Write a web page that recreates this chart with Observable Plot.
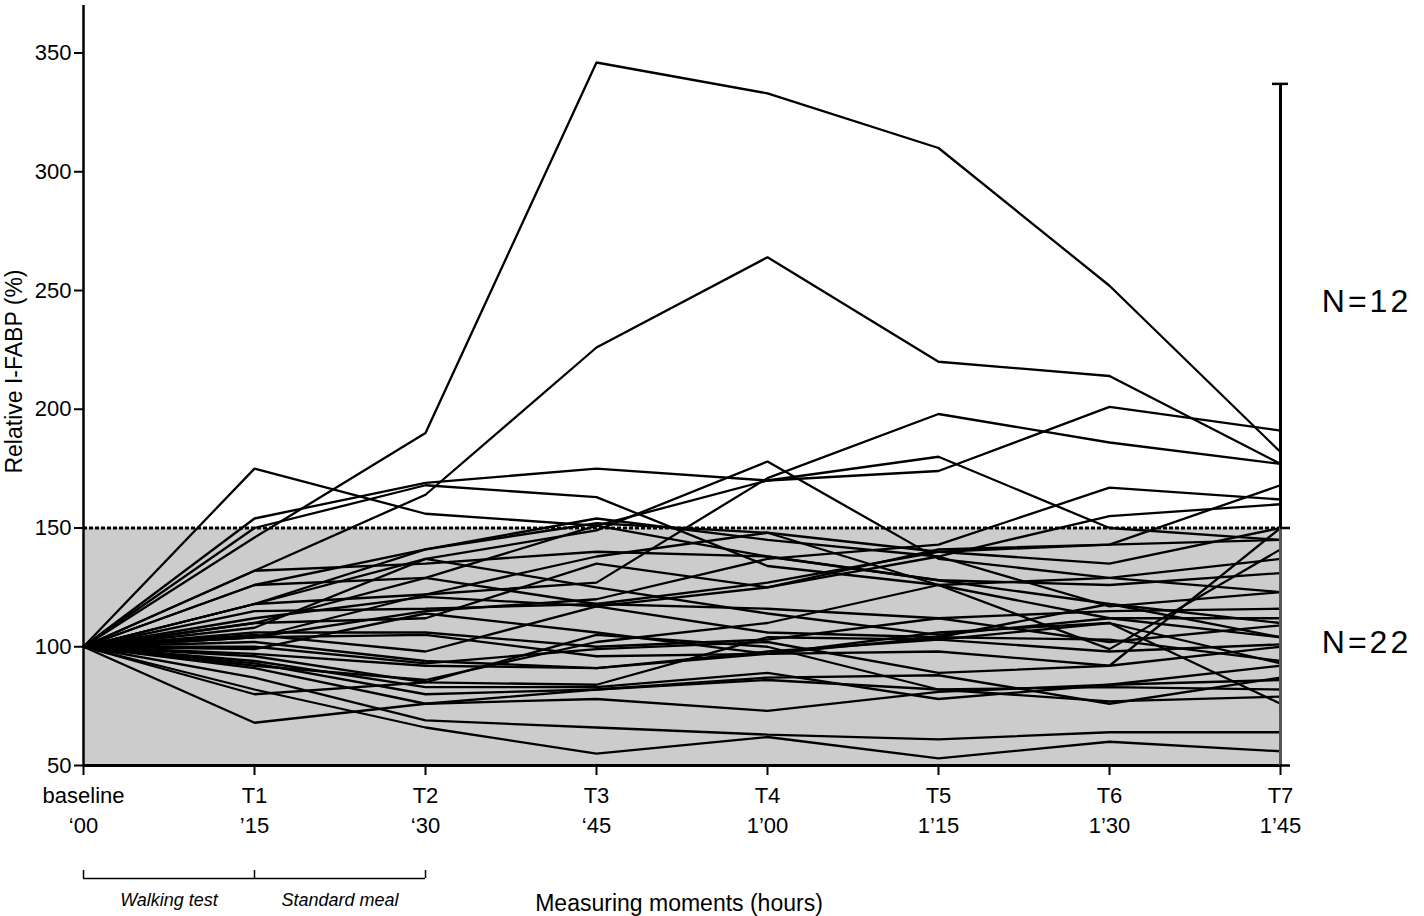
<!DOCTYPE html>
<html>
<head>
<meta charset="utf-8">
<script src="https://cdn.jsdelivr.net/npm/d3@7"></script>
<script src="https://cdn.jsdelivr.net/npm/@observablehq/plot@0.6"></script>
<style>
  html, body { margin: 0; padding: 0; background: #ffffff; }
  #chart svg { display: block; }
</style>
</head>
<body>
<div id="chart"></div>
<script>
// ---- Tick labels / categories ----
const moments = ["baseline", "T1", "T2", "T3", "T4", "T5", "T6", "T7"];
const clockTimes = ["\u201800", "\u201915", "\u201830", "\u201845", "1\u201900", "1\u201915", "1\u201930", "1\u201945"];
const yTicks = [50, 100, 150, 200, 250, 300, 350];

// ---- Reference lines / annotations ----
const threshold = 150;
const bracketTop = 337;
const phases = [
  { label: "Walking test", from: 0, to: 1 },
  { label: "Standard meal", from: 1, to: 2 }
];
const groupLabels = [
  { label: "N=12", y: 243.5 },
  { label: "N=22", y: 100 }
];

// ---- Subjects exceeding 150% (relative I-FABP, %, baseline..T7) ----
const upperGroup = [
  [100, 146, 190, 346, 333, 310, 252, 182],
  [100, 132, 164, 226, 264, 220, 214, 177],
  [100, 154, 169, 175, 170, 174, 201, 191],
  [100, 175, 156, 151, 138, 128, 118, 110],
  [100, 150, 168, 163, 134, 126, 112, 104],
  [100, 118, 137, 149, 178, 137, 129, 123],
  [100, 104, 122, 127, 171, 198, 186, 177],
  [100, 110, 129, 151, 170, 180, 150, 145],
  [100, 104, 115, 120, 137, 143, 167, 162],
  [100, 118, 141, 154, 145, 138, 155, 160],
  [100, 112, 121, 117, 125, 141, 143, 168],
  [100, 126, 141, 152, 148, 140, 135, 150]
];

// ---- Subjects staying below 150% ----
const lowerGroup = [
  [100, 132, 135, 140, 138, 128, 126, 131],
  [100, 126, 129, 118, 127, 140, 143, 145],
  [100, 118, 122, 138, 148, 126, 129, 137],
  [100, 115, 116, 118, 116, 112, 115, 116],
  [100, 110, 112, 135, 125, 138, 117, 123],
  [100, 108, 137, 125, 114, 105, 112, 112],
  [100, 106, 106, 100, 103, 112, 102, 109],
  [100, 105, 98, 117, 106, 104, 118, 104],
  [100, 102, 94, 91, 98, 103, 98, 101],
  [100, 100, 93, 99, 102, 89, 92, 100],
  [100, 99, 114, 106, 97, 104, 103, 94],
  [100, 96, 85, 84, 104, 103, 110, 93],
  [100, 94, 83, 83, 89, 78, 84, 92],
  [100, 93, 80, 82, 87, 88, 76, 87],
  [100, 91, 76, 78, 73, 81, 84, 86],
  [100, 87, 69, 66, 63, 61, 64, 64],
  [100, 82, 66, 55, 62, 53, 60, 56],
  [100, 80, 85, 105, 100, 82, 83, 82],
  [100, 68, 76, 82, 86, 82, 77, 79],
  [100, 104, 105, 96, 97, 106, 110, 76],
  [100, 97, 92, 91, 97, 98, 92, 150],
  [100, 92, 86, 102, 110, 126, 99, 141]
];

const yLabel = "Relative I-FABP (%)";
const xLabel = "Measuring moments (hours)";

// ---- Build long table for the library ----
const rows = [];
[...upperGroup, ...lowerGroup].forEach((vals, id) =>
  vals.forEach((v, t) => rows.push({ id, t, v }))
);
const lastT = moments.length - 1;
const yMin = yTicks[0];

const plot = Plot.plot({
  width: 1424,
  height: 916,
  marginLeft: 83,
  marginRight: 144,
  marginTop: 5,
  marginBottom: 151,
  style: { fontFamily: "'Liberation Sans', Arial, sans-serif", fontSize: "22px", background: "#ffffff", color: "#000" },
  x: { type: "linear", domain: [0, lastT] },
  y: { domain: [yMin, 370] },
  marks: [
    // grey band under the threshold
    Plot.rect([{ lo: yMin, hi: threshold }], { x1: 0, x2: lastT, y1: "lo", y2: "hi", fill: "#cccccc" }),
    // dotted threshold
    Plot.ruleY([threshold], { x1: 0, x2: lastT, stroke: "#000", strokeWidth: 3, strokeDasharray: "4,2" }),
    // subject lines
    Plot.line(rows, { x: "t", y: "v", z: "id", stroke: "#000", strokeWidth: 2.3, strokeLinejoin: "miter" }),
    // axes
    Plot.axisY(yTicks, { tickSize: 9, tickPadding: 3, strokeWidth: 2, label: null }),
    Plot.axisX(d3.range(moments.length), {
      tickSize: 10, tickPadding: 6, strokeWidth: 2, label: null, lineHeight: 1.36,
      tickFormat: (i) => moments[i] + "\n" + clockTimes[i]
    }),
    Plot.ruleX([0], { y1: yMin, y2: 370, stroke: "#000", strokeWidth: 2.5 }),
    Plot.ruleY([yMin], { x1: 0, x2: lastT, stroke: "#000", strokeWidth: 3 }),
    // right-hand group brackets
    Plot.ruleX([lastT], { y1: threshold, y2: bracketTop, stroke: "#000", strokeWidth: 3 }),
    Plot.ruleX([lastT], { y1: yMin, y2: threshold, stroke: "#555", strokeWidth: 3 }),
    Plot.ruleY([bracketTop], { x1: lastT, x2: lastT, insetLeft: -8, insetRight: -8, stroke: "#000", strokeWidth: 2.5 }),
    Plot.ruleY([threshold, yMin], { x1: lastT, x2: lastT, insetRight: -10, stroke: "#000", strokeWidth: 2.5 }),
    Plot.text(groupLabels, { x: lastT, y: "y", text: "label", dx: 86, dy: -4, fontSize: 32, lineAnchor: "middle" }),
    // phase bracket under the x axis
    Plot.ruleY([yMin], { x1: 0, x2: 2, dy: 113, stroke: "#000", strokeWidth: 1.5 }),
    Plot.ruleX([0, 1, 2], { y1: yMin, y2: yMin, dy: 113, insetTop: -8, stroke: "#000", strokeWidth: 1.5 }),
    Plot.text(phases, { x: (d) => (d.from + d.to) / 2, y: yMin, dy: 135, text: "label", fontSize: 18, fontStyle: "italic", lineAnchor: "middle" }),
    // axis titles
    Plot.text([xLabel], { frameAnchor: "bottom", dy: 138, dx: -3, lineAnchor: "middle", fontSize: 23 }),
    Plot.text([yLabel], { frameAnchor: "left", dx: -69, dy: -14, rotate: -90, textAnchor: "middle", lineAnchor: "middle", fontSize: 23 })
  ]
});

// slightly wider letter spacing for the group counts, as in the original
d3.select(plot).selectAll("text")
  .filter(function () { return this.textContent.startsWith("N="); })
  .attr("letter-spacing", "3px");

document.getElementById("chart").appendChild(plot);
</script>
</body>
</html>
